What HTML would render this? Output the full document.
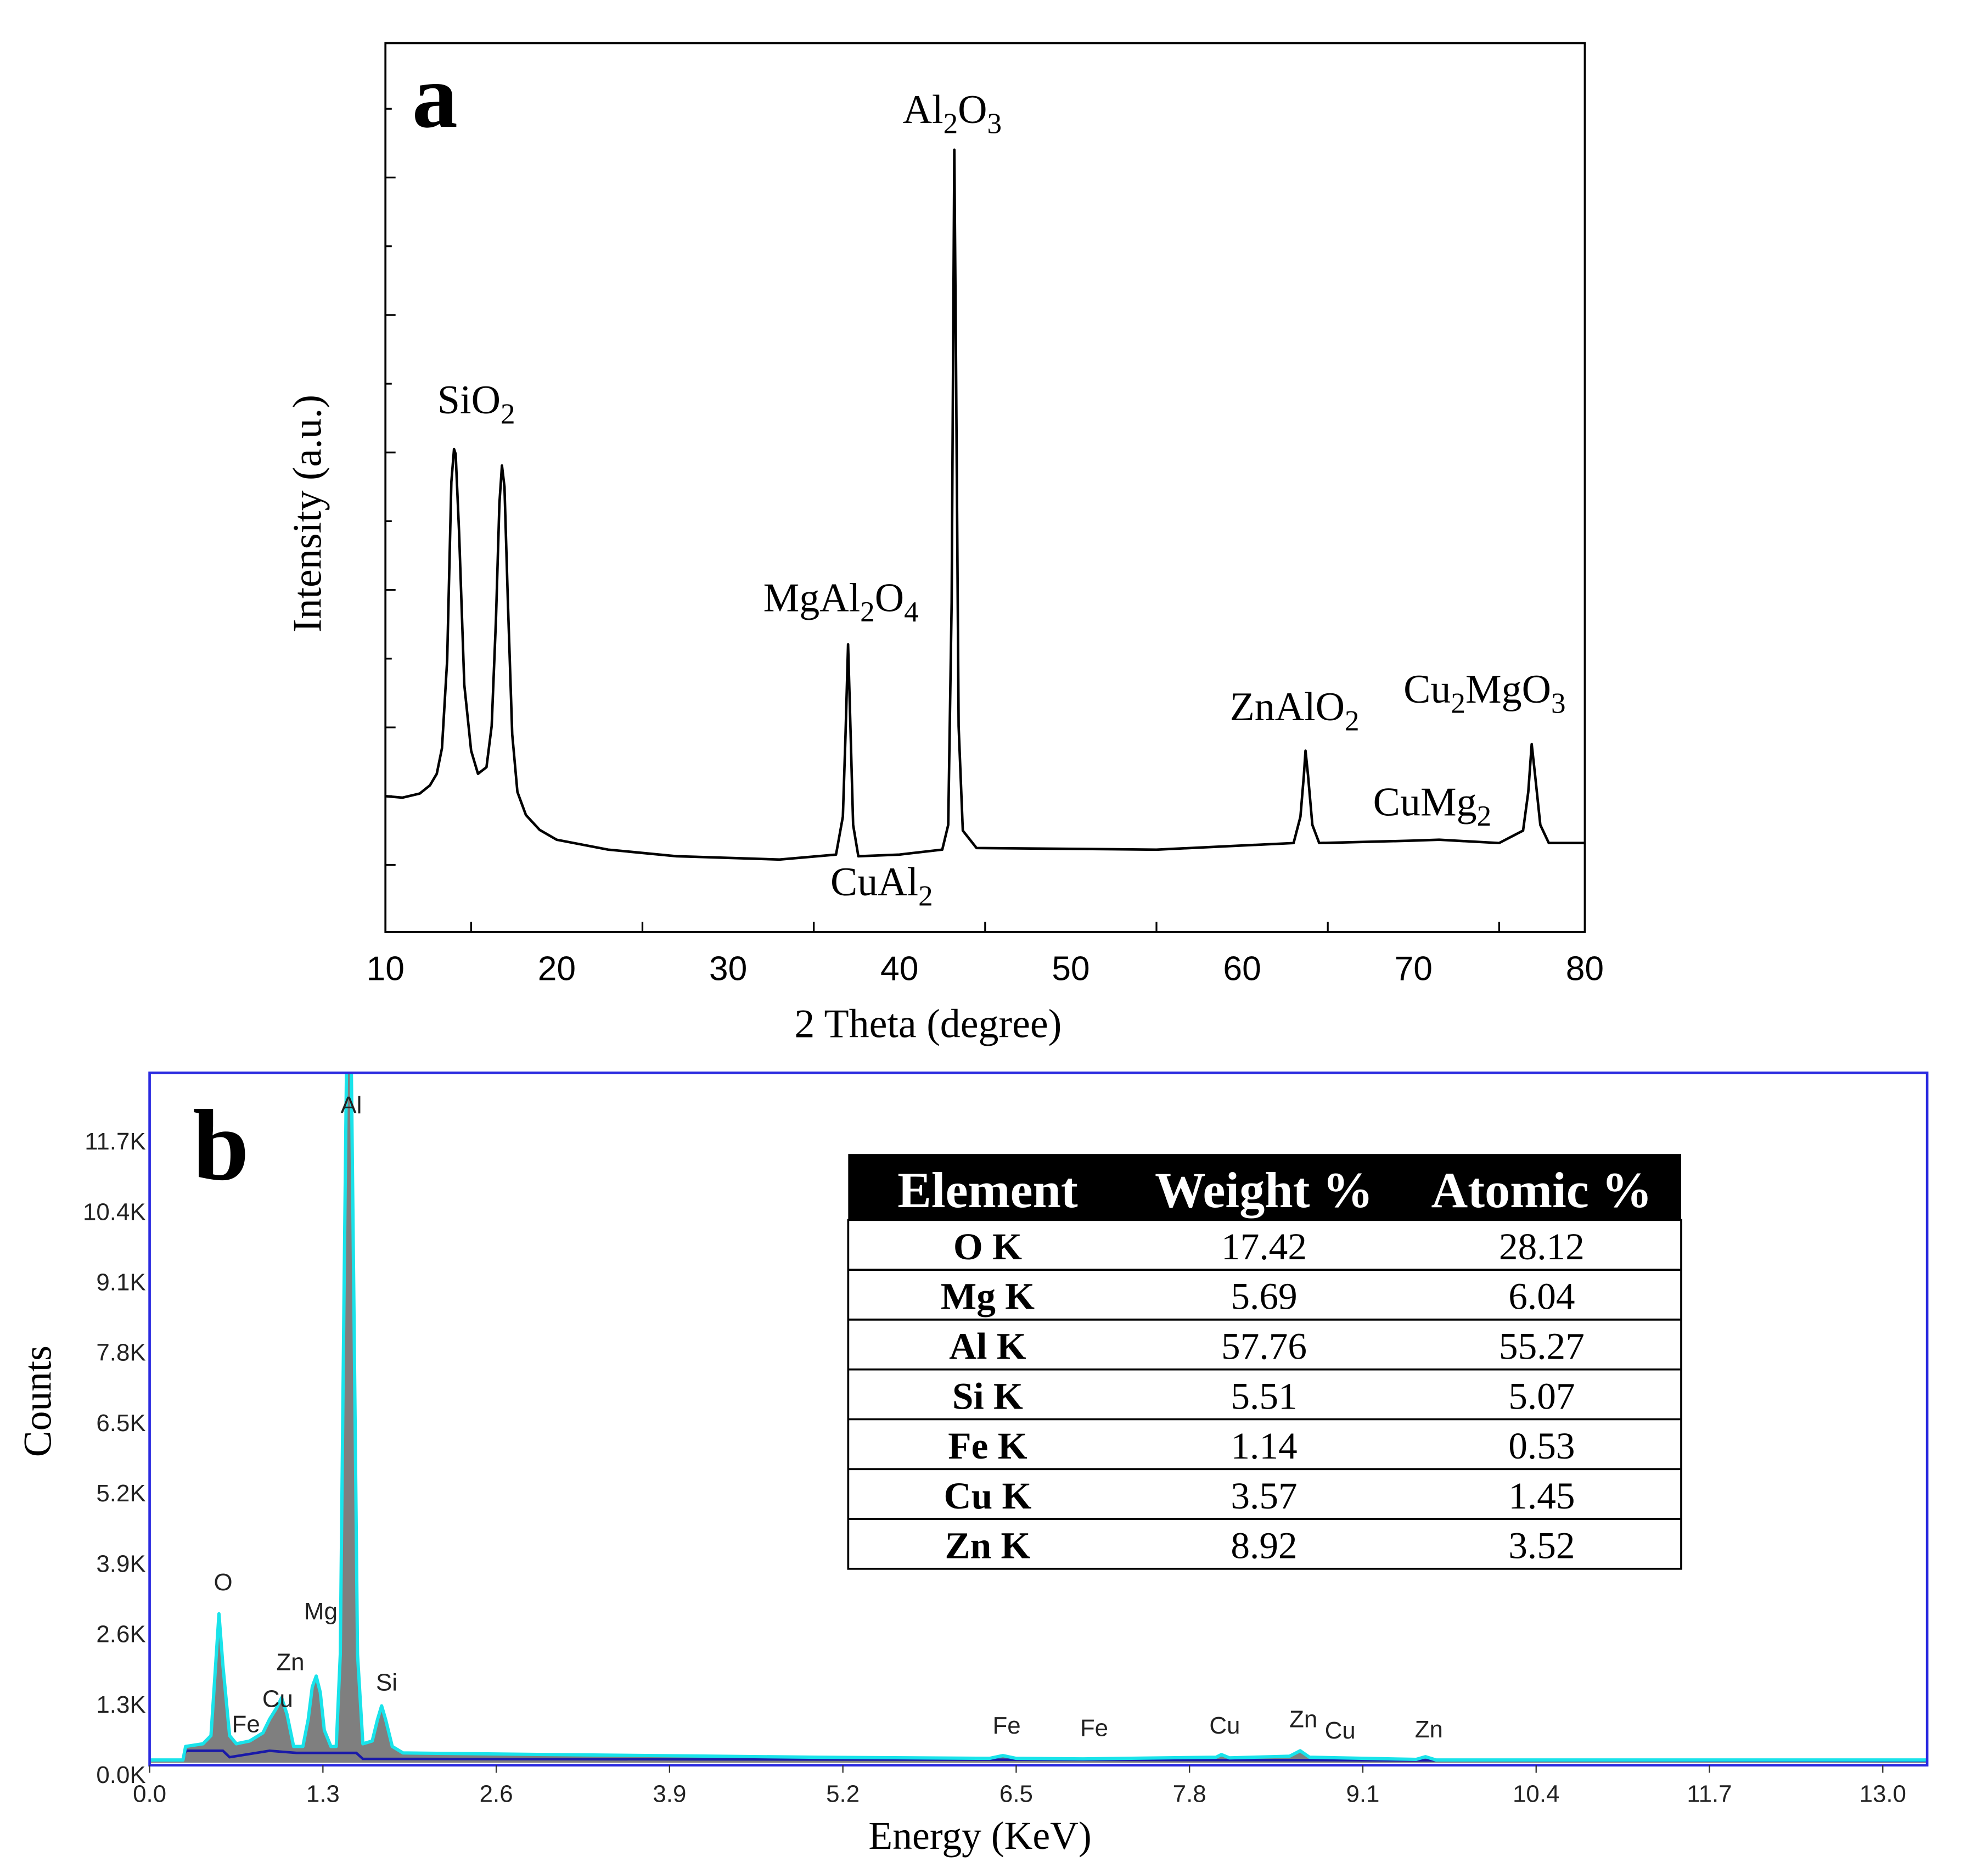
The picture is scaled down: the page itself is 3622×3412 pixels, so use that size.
<!DOCTYPE html>
<html><head><meta charset="utf-8"><style>
html,body{margin:0;padding:0;background:#fff;}
svg{display:block;}
.serif{font-family:"Liberation Serif",serif;}
.sans{font-family:"Liberation Sans","DejaVu Sans",sans-serif;}
</style></head><body>
<svg id="fig" width="3622" height="3412" viewBox="0 0 1568 1477" preserveAspectRatio="none" xmlns="http://www.w3.org/2000/svg">
<rect x="0" y="0" width="1568" height="1477" fill="#fff"/>
<g id="xrd"></g>
<g id="eds"></g>
</svg>
<script>
// ---------- XRD data (panel a) ----------
const xrdTheta = [10,11,12,12.6,13.0,13.3,13.6,13.85,14.0,14.1,14.3,14.6,15.0,15.4,15.9,16.2,16.45,16.65,16.8,16.95,17.15,17.4,17.7,18.2,19,20,23,27,33,36.3,36.7,36.85,37.0,37.1,37.3,37.6,40,42.5,42.85,43.05,43.2,43.3,43.45,43.7,44.5,55,63,63.4,63.6,63.7,63.85,64.1,64.5,70,71.5,75,76.4,76.7,76.9,77.1,77.4,77.9,80];
const xrdIntensity = [16.5,16.3,16.8,17.8,19.2,22.3,33,54.6,58.6,58,48.5,30,22,19.2,20,25,38,52,56.6,54,40,24,17,14.2,12.4,11.2,10,9.2,8.8,9.4,14,24,34.9,28,13,9.2,9.4,10,13,40,94.9,70,25,12.3,10.2,10,10.8,14,19,22,19,13,10.8,11.1,11.2,10.8,12.3,17,22.8,19,13,10.8,10.8];
const xrdTicks = [10,20,30,40,50,60,70,80];

// ---------- EDS data (panel b) ----------
const edsEnergy = [0.0,0.25,0.27,0.4,0.46,0.49,0.52,0.55,0.6,0.65,0.75,0.85,0.9,0.95,0.99,1.03,1.08,1.15,1.19,1.22,1.25,1.28,1.31,1.36,1.40,1.43,1.46,1.48,1.51,1.53,1.56,1.6,1.67,1.71,1.74,1.77,1.82,1.9,2.2,3.0,5.0,6.3,6.4,6.5,7.0,8.0,8.04,8.1,8.55,8.63,8.7,9.5,9.57,9.65,13.4];
const edsCounts = [0.05,0.05,0.3,0.35,0.5,1.6,2.75,1.8,0.5,0.35,0.4,0.55,0.8,1.0,1.2,0.9,0.3,0.3,0.8,1.4,1.6,1.3,0.6,0.3,0.3,2,9,13.5,13.5,9,2,0.35,0.4,0.8,1.05,0.8,0.3,0.18,0.17,0.15,0.1,0.08,0.13,0.08,0.07,0.1,0.15,0.09,0.12,0.22,0.1,0.06,0.11,0.05,0.05];
const edsBgEnergy = [0.25,0.27,0.55,0.6,0.9,1.1,1.55,1.6,13.4];
const edsBgCounts = [0.05,0.22,0.22,0.1,0.22,0.18,0.18,0.07,0.03];
const edsXTicks = [0.0,1.3,2.6,3.9,5.2,6.5,7.8,9.1,10.4,11.7,13.0];
const edsYTicks = [0.0,1.3,2.6,3.9,5.2,6.5,7.8,9.1,10.4,11.7];
const tableElements = ["O K","Mg K","Al K","Si K","Fe K","Cu K","Zn K"];
const tableWeight = ["17.42","5.69","57.76","5.51","1.14","3.57","8.92"];
const tableAtomic = ["28.12","6.04","55.27","5.07","0.53","1.45","3.52"];

const NS="http://www.w3.org/2000/svg";
function mk(parent,tag,attrs,text){const e=document.createElementNS(NS,tag);for(const k in attrs)e.setAttribute(k,attrs[k]);if(text!==undefined)e.textContent=text;parent.appendChild(e);return e;}

// ---------- Panel a ----------
const A=document.getElementById('xrd');
const ax={x0:304,x1:1250,y0:735,y1:34};
const xA=t=>ax.x0+(t-10)*(ax.x1-ax.x0)/70;
const yA=i=>735-i*6.5;
let r=mk(A,'rect',{x:ax.x0,y:ax.y1,width:ax.x1-ax.x0,height:ax.y0-ax.y1,fill:'none',stroke:'#000','stroke-width':1.6});

for(let t=10;t<=80;t+=5){const l=mk(A,'line',{x1:xA(t),x2:xA(t),y1:ax.y0,y2:ax.y0-(t%10===0?0:8),stroke:'#000','stroke-width':1.4});
}
for(let k=0;k<12;k++){const yy=682-k*54.2;const l=mk(A,'line',{x1:ax.x0,x2:ax.x0+(k%2===0?8:5),y1:yy,y2:yy,stroke:'#000','stroke-width':1.4});
}
xrdTicks.forEach(t=>{const e=mk(A,'text',{x:xA(t),y:773,'text-anchor':'middle','font-size':27,class:'sans'},String(t));
});
let p=mk(A,'path',{d:xrdTheta.map((t,i)=>(i?'L':'M')+xA(t).toFixed(1)+','+yA(xrdIntensity[i]).toFixed(1)).join(''),fill:'none',stroke:'#000','stroke-width':2,'stroke-linejoin':'round'});

let t1=mk(A,'text',{x:732,y:818,'text-anchor':'middle','font-size':32,class:'serif'},'2 Theta (degree)');

let t2=mk(A,'text',{x:0,y:0,'text-anchor':'middle','font-size':32,class:'serif',transform:'translate(253,405) rotate(-90)'},'Intensity (a.u.)');

let pa=mk(A,'text',{x:325,y:100,'font-size':72,'font-weight':'bold',class:'serif'},'a');

function chem(parent,x,y,parts,name){const e=mk(parent,'text',{x:x,y:y,'font-size':32,class:'serif'});

parts.forEach(pt=>{mk(e,'tspan',pt[1]?{'font-size':23,dy:8}:{dy:pt[2]||0},pt[0]);});return e;}
chem(A,712,97,[['Al'],['2',1],['O',0,-8],['3',1]],'peak-label-al2o3');
chem(A,345,326,[['SiO'],['2',1]],'peak-label-sio2');
chem(A,602,482,[['MgAl'],['2',1],['O',0,-8],['4',1]],'peak-label-mgal2o4');
chem(A,655,706,[['CuAl'],['2',1]],'peak-label-cual2');
chem(A,970,568,[['ZnAlO'],['2',1]],'peak-label-znalo2');
chem(A,1107,554,[['Cu'],['2',1],['MgO',0,-8],['3',1]],'peak-label-cu2mgo3');
chem(A,1083,643,[['CuMg'],['2',1]],'peak-label-cumg2');

// ---------- Panel b ----------
const B=document.getElementById('eds');
const bx={x0:118,x1:1520,yTop:846,yBot:1392};
const xB=e=>118+e*(1485-118)/13;
const yB=c=>1390-c*42.7;
mk(B,'defs',{}).innerHTML='<clipPath id="clipb"><rect x="118" y="846" width="1402" height="546"/></clipPath>';
const g=mk(B,'g',{'clip-path':'url(#clipb)'});

const pts=edsEnergy.map((e,i)=>xB(e).toFixed(1)+','+yB(edsCounts[i]).toFixed(1));
let fill=mk(g,'path',{d:'M'+xB(0)+','+yB(0)+'L'+pts.join('L')+'L'+xB(13.4)+','+yB(0)+'Z',fill:'#7f7f7f'});

let bg=mk(g,'path',{d:'M'+edsBgEnergy.map((e,i)=>xB(e).toFixed(1)+','+yB(edsBgCounts[i]).toFixed(1)).join('L'),fill:'none',stroke:'#1a1aa8','stroke-width':2});

let cy=mk(g,'path',{d:'M'+pts.join('L'),fill:'none',stroke:'#19e3ea','stroke-width':2.6,'stroke-linejoin':'round'});

let fr=mk(B,'rect',{x:bx.x0,y:bx.yTop,width:bx.x1-bx.x0,height:bx.yBot-bx.yTop,fill:'none',stroke:'#2a2ae0','stroke-width':2});

edsXTicks.forEach(e=>{const l=mk(B,'line',{x1:xB(e),x2:xB(e),y1:1392,y2:1398,stroke:'#333','stroke-width':1});

const t=mk(B,'text',{x:xB(e),y:1421,'text-anchor':'middle','font-size':19,fill:'#222',class:'sans'},e.toFixed(1));
});
edsYTicks.forEach(c=>{const t=mk(B,'text',{x:115,y:1406-c/1.3*55.5,'text-anchor':'end','font-size':19,fill:'#222',class:'sans'},c.toFixed(1)+'K');
});
let bt=mk(B,'text',{x:773,y:1458,'text-anchor':'middle','font-size':31,class:'serif'},'Energy (KeV)');

let by=mk(B,'text',{x:0,y:0,'text-anchor':'middle','font-size':31,class:'serif',transform:'translate(40,1105) rotate(-90)'},'Counts');

let pb=mk(B,'text',{x:152,y:930,'font-size':80,'font-weight':'bold',class:'serif'},'b');

const peakLabels=[['O',176,1254],['Mg',253,1277],['Al',277,878],['Zn',229,1317],['Cu',219,1346],['Fe',194,1366],['Si',305,1333],['Fe',794,1367],['Fe',863,1369],['Cu',966,1367],['Zn',1028,1362],['Cu',1057,1371],['Zn',1127,1370]];
peakLabels.forEach(l=>{const t=mk(B,'text',{x:l[1],y:l[2],'text-anchor':'middle','font-size':19,fill:'#222',class:'sans'},l[0]);
});
// table
const tb=mk(B,'g',{});
const tx0=669,tx1=1326,ty0=910,hy=962,rh=39.3;const cols=[779,997,1216];
let hd=mk(tb,'rect',{x:tx0,y:ty0,width:tx1-tx0,height:hy-ty0,fill:'#000'});
['Element','Weight %','Atomic %'].forEach((h,i)=>{const t=mk(tb,'text',{x:cols[i],y:952,'text-anchor':'middle','font-size':40,'font-weight':'bold',fill:'#fff',class:'serif'},h);
});
let tr=mk(tb,'rect',{x:tx0,y:hy,width:tx1-tx0,height:rh*7,fill:'none',stroke:'#000','stroke-width':1.6});

tableElements.forEach((el,i)=>{const yy=hy+rh*i;
if(i>0){const l=mk(tb,'line',{x1:tx0,x2:tx1,y1:yy,y2:yy,stroke:'#000','stroke-width':1.6});}
const a=mk(tb,'text',{x:cols[0],y:yy+31,'text-anchor':'middle','font-size':30,'font-weight':'bold',class:'serif'},el);

const b=mk(tb,'text',{x:cols[1],y:yy+31,'text-anchor':'middle','font-size':30,class:'serif'},tableWeight[i]);

const c=mk(tb,'text',{x:cols[2],y:yy+31,'text-anchor':'middle','font-size':30,class:'serif'},tableAtomic[i]);
});
</script>
</body></html>
